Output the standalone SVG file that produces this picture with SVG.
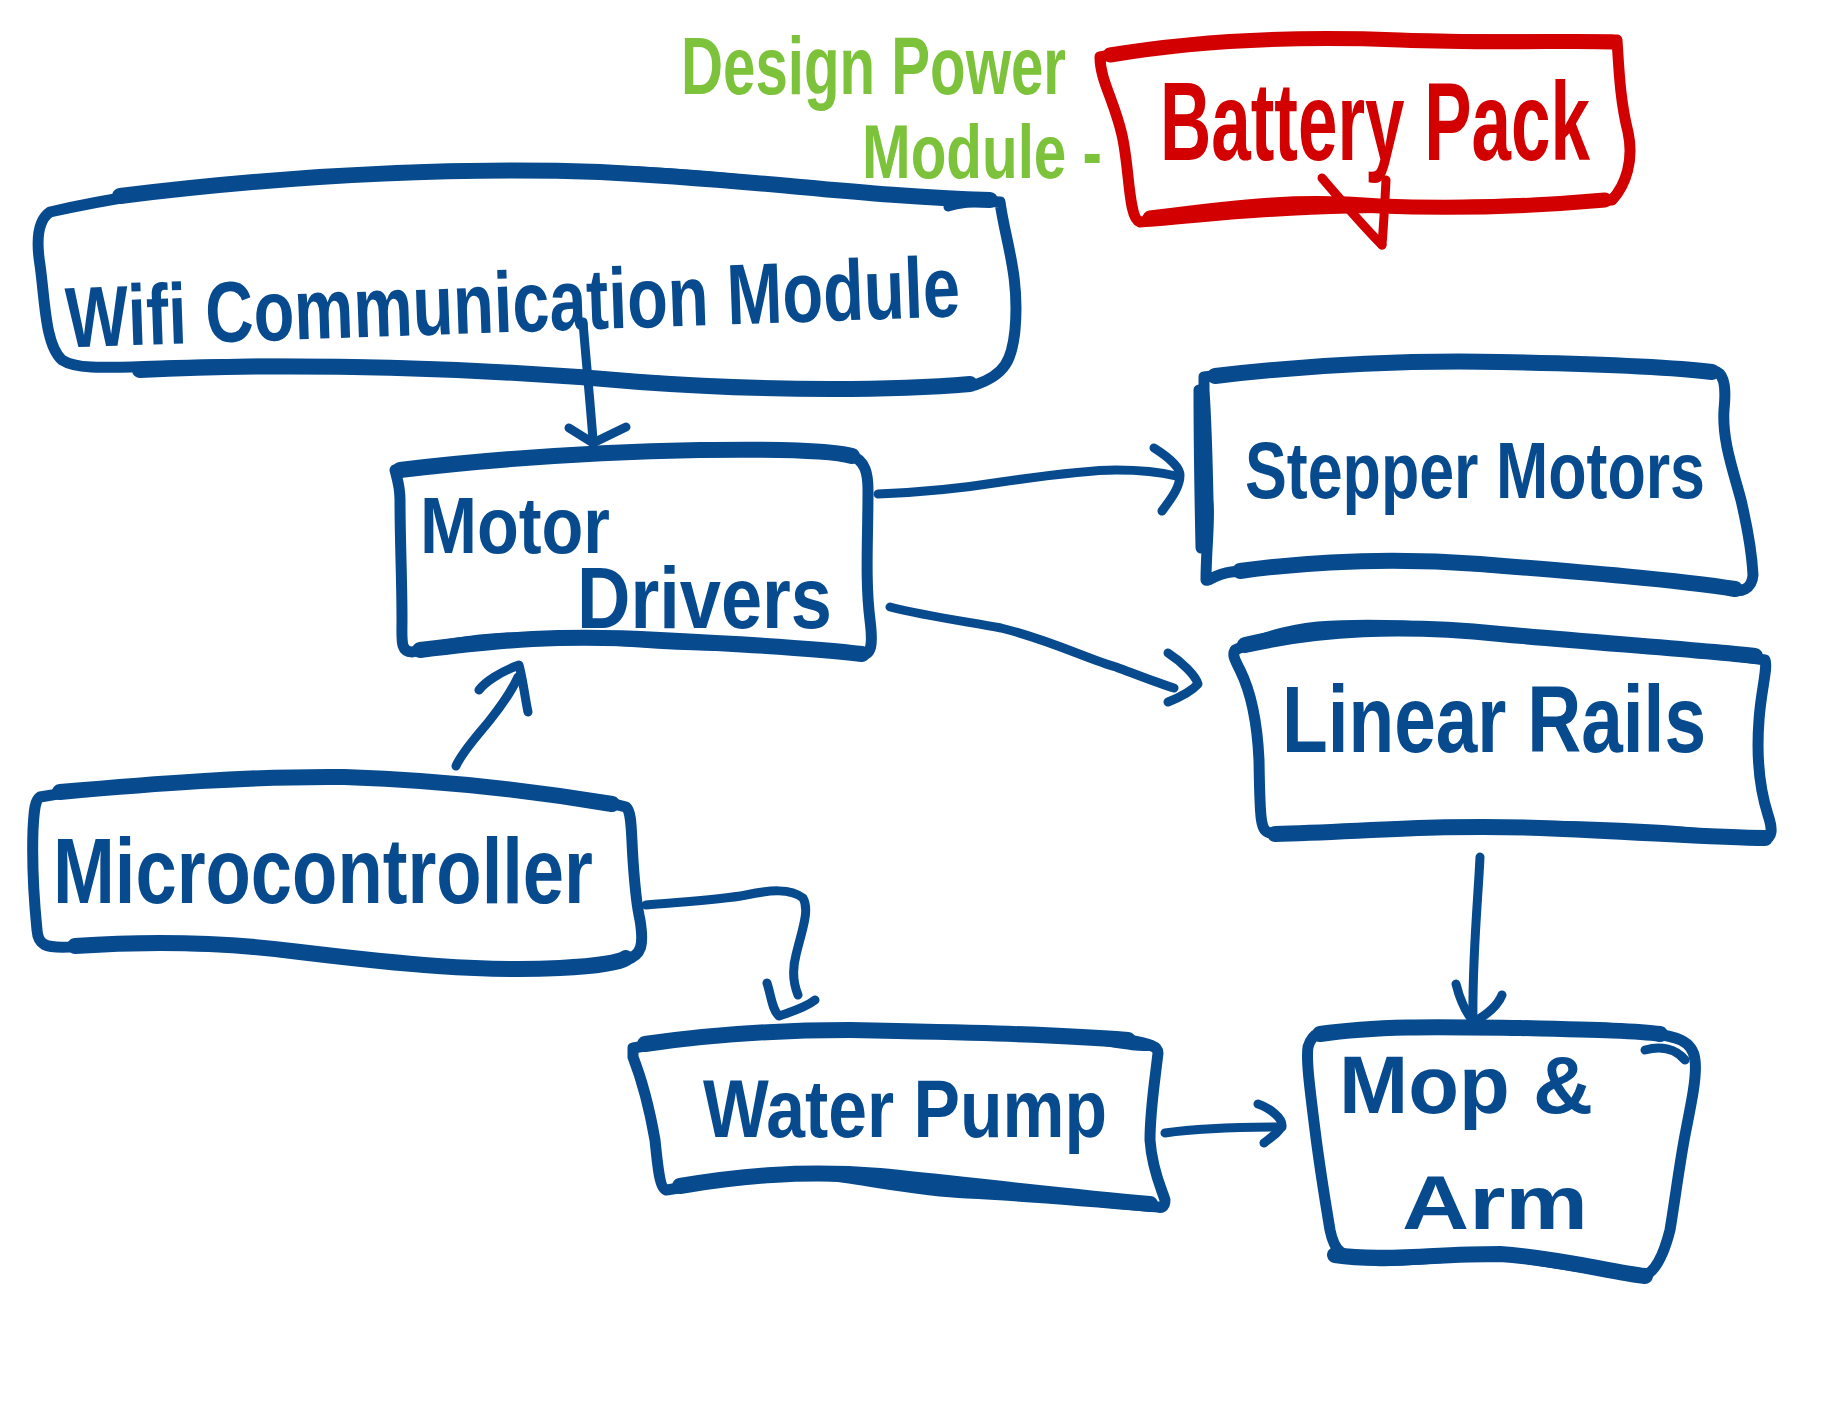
<svg xmlns="http://www.w3.org/2000/svg" width="1847" height="1419" viewBox="0 0 1847 1419">
<defs>
<style>
.box{fill:none;stroke:#074A8E;stroke-width:11;stroke-linecap:round;stroke-linejoin:round}
.thick{fill:none;stroke:#074A8E;stroke-width:16;stroke-linecap:round;stroke-linejoin:round}
.redbox{fill:none;stroke:#D20000;stroke-width:11;stroke-linecap:round;stroke-linejoin:round}
.redthick{fill:none;stroke:#D20000;stroke-width:15;stroke-linecap:round;stroke-linejoin:round}
.con{fill:none;stroke:#074A8E;stroke-width:9;stroke-linecap:round;stroke-linejoin:round}
.redcon{fill:none;stroke:#D20000;stroke-width:9;stroke-linecap:round;stroke-linejoin:round}
.t{font-family:"Liberation Sans","DejaVu Sans",sans-serif;font-weight:bold;fill:#074A8E}
.tr{font-family:"Liberation Sans","DejaVu Sans",sans-serif;font-weight:bold;fill:#D20000}
.tg{font-family:"Liberation Sans","DejaVu Sans",sans-serif;font-weight:bold;fill:#7DC23B}
</style>
</defs>
<rect width="1847" height="1419" fill="#ffffff"/>

<g id="power-label">
<text class="tg" x="681" y="94" font-size="82" textLength="385" lengthAdjust="spacingAndGlyphs">Design Power</text>
<text class="tg" x="862" y="178" font-size="76" textLength="240" lengthAdjust="spacingAndGlyphs">Module -</text>
</g>

<g id="battery-pack">
<path class="redbox" d="M 1100,57 C 1160,44 1250,36 1350,38 C 1450,40 1550,40 1617,40 C 1619,70 1620,100 1628,132 C 1634,160 1626,185 1612,200 C 1550,204 1450,206 1350,208 C 1250,210 1200,218 1140,222 C 1128,218 1130,170 1122,135 C 1114,100 1100,80 1100,57 Z"/>
<path class="redthick" d="M 1110,55 C 1200,40 1300,36 1400,40 C 1500,44 1570,40 1612,42"/>
<path class="redthick" d="M 1150,218 C 1250,205 1300,200 1380,206 C 1480,210 1560,204 1605,200"/>
<text class="tr" x="1160" y="160" font-size="112" textLength="430" lengthAdjust="spacingAndGlyphs">Battery Pack</text>
</g>

<g id="wifi-module">
<path class="box" d="M 50,212 C 120,196 200,185 290,178 C 420,168 520,166 640,172 C 760,178 860,196 1000,202 C 1005,240 1020,275 1015,330 C 1012,360 1005,375 975,385 C 900,392 780,390 640,380 C 500,368 350,362 200,365 C 120,366 80,372 62,360 C 45,345 45,300 40,265 C 36,240 38,220 50,212 Z"/>
<path class="thick" d="M 120,196 C 250,180 420,166 600,172 C 760,180 860,196 990,200"/>
<path class="thick" d="M 140,370 C 300,362 480,368 640,382 C 780,392 900,390 970,384"/>
<path class="con" d="M 948,207 C 960,203 975,202 990,202"/>
<text class="t" x="65" y="332" font-size="86" textLength="895" lengthAdjust="spacingAndGlyphs" transform="rotate(-2 510 300)">Wifi Communication Module</text>
</g>

<g id="motor-drivers">
<path class="box" d="M 395,470 C 480,460 560,455 620,452 C 700,448 780,447 850,455 C 866,460 868,475 868,490 C 868,540 865,580 870,620 C 873,645 872,655 860,655 C 820,652 760,645 700,645 C 620,643 560,632 480,640 C 440,645 420,650 412,652 C 400,652 402,640 402,620 C 402,580 400,540 400,500 C 400,485 396,475 395,470 Z"/>
<path class="thick" d="M 400,470 C 500,458 600,452 700,450 C 780,449 830,450 852,456"/>
<path class="thick" d="M 420,650 C 500,640 560,634 660,640 C 760,645 830,650 862,654"/>
<text class="t" x="420" y="553" font-size="80" textLength="190" lengthAdjust="spacingAndGlyphs">Motor</text>
<text class="t" x="577" y="628" font-size="88" textLength="255" lengthAdjust="spacingAndGlyphs">Drivers</text>
</g>

<g id="stepper-motors">
<path class="box" d="M 1204,377 C 1260,370 1320,364 1378,362 C 1450,360 1520,362 1575,364 C 1640,366 1690,368 1717,372 C 1725,376 1726,390 1724,410 C 1722,440 1733,470 1741,500 C 1748,530 1752,555 1753,575 C 1752,590 1740,592 1733,590 C 1680,582 1620,576 1575,573 C 1500,568 1440,562 1378,560 C 1300,560 1260,568 1231,572 C 1215,574 1208,582 1206,580 C 1206,550 1210,520 1208,500 C 1207,450 1206,420 1204,390 Z"/>
<path class="thick" d="M 1215,376 C 1300,366 1400,360 1500,362 C 1600,364 1680,368 1712,372"/>
<path class="thick" d="M 1240,571 C 1320,560 1400,558 1480,564 C 1580,572 1680,580 1735,589"/>
<path class="box" d="M 1199,390 C 1199,440 1200,500 1201,548"/>
<text class="t" x="1245" y="498" font-size="80" textLength="460" lengthAdjust="spacingAndGlyphs">Stepper Motors</text>
</g>

<g id="linear-rails">
<path class="box" d="M 1235,650 C 1260,638 1290,630 1318,627 C 1380,622 1440,628 1496,633 C 1600,642 1700,650 1765,660 C 1768,668 1761,690 1759,720 C 1756,760 1760,790 1768,815 C 1773,830 1772,838 1765,838 C 1720,836 1690,832 1654,830 C 1580,826 1520,825 1457,827 C 1380,830 1320,836 1271,833 C 1260,832 1260,820 1259,760 C 1257,717 1250,690 1240,670 C 1235,660 1232,655 1235,650 Z"/>
<path class="thick" d="M 1245,645 C 1320,628 1400,624 1500,634 C 1600,643 1700,650 1755,656"/>
<path class="thick" d="M 1275,834 C 1360,832 1440,824 1540,828 C 1640,832 1720,838 1765,838"/>
<text class="t" x="1282" y="752" font-size="95" textLength="424" lengthAdjust="spacingAndGlyphs">Linear Rails</text>
</g>

<g id="microcontroller">
<path class="box" d="M 40,797 C 100,786 170,782 230,780 C 290,778 320,776 344,777 C 440,780 520,790 574,797 C 600,800 615,804 626,807 C 632,812 631,830 633,860 C 635,890 637,907 640,920 C 644,945 642,955 626,960 C 580,966 540,970 517,970 C 430,970 360,958 287,950 C 200,944 110,944 69,947 C 45,948 38,945 37,930 C 34,900 32,860 33,830 C 34,810 35,800 40,797 Z"/>
<path class="thick" d="M 60,792 C 150,784 250,776 344,777 C 440,780 540,792 612,804"/>
<path class="thick" d="M 75,946 C 160,940 240,944 300,952 C 400,964 480,972 560,968 C 600,966 620,962 626,958"/>
<text class="t" x="53" y="903" font-size="92" textLength="540" lengthAdjust="spacingAndGlyphs">Microcontroller</text>
</g>

<g id="water-pump">
<path class="box" d="M 633,1048 C 680,1040 720,1034 747,1033 C 820,1030 900,1032 967,1033 C 1040,1034 1100,1036 1128,1040 C 1150,1044 1158,1046 1158,1053 C 1155,1080 1150,1110 1150,1140 C 1152,1170 1162,1190 1165,1200 C 1165,1208 1160,1208 1158,1207 C 1100,1202 1030,1196 967,1193 C 900,1190 840,1172 783,1173 C 730,1174 690,1188 666,1190 C 660,1188 658,1170 655,1140 C 648,1100 640,1075 633,1057 Z"/>
<path class="thick" d="M 645,1044 C 700,1036 760,1030 850,1030 C 950,1032 1050,1034 1128,1040"/>
<path class="thick" d="M 680,1186 C 740,1176 800,1170 880,1176 C 960,1184 1060,1196 1150,1204"/>
<path class="con" d="M 1095,1040 C 1120,1044 1140,1048 1150,1046"/>
<text class="t" x="703" y="1137" font-size="82" textLength="404" lengthAdjust="spacingAndGlyphs">Water Pump</text>
</g>

<g id="mop-arm">
<path class="box" d="M 1319,1033 C 1360,1028 1420,1028 1480,1028 C 1560,1030 1620,1032 1649,1033 C 1675,1036 1693,1040 1695,1060 C 1697,1075 1692,1100 1686,1130 C 1680,1160 1675,1200 1670,1230 C 1662,1262 1652,1274 1642,1277 C 1600,1270 1550,1262 1517,1257 C 1460,1252 1400,1264 1370,1260 C 1340,1258 1334,1250 1330,1230 C 1325,1200 1320,1170 1315,1130 C 1310,1090 1306,1060 1308,1047 C 1310,1040 1314,1035 1319,1033 Z"/>
<path class="thick" d="M 1320,1034 C 1380,1025 1450,1027 1520,1028 C 1600,1030 1640,1031 1660,1034"/>
<path class="thick" d="M 1335,1255 C 1380,1262 1430,1254 1500,1254 C 1560,1258 1610,1272 1645,1276"/>
<path class="con" d="M 1645,1050 C 1660,1046 1675,1048 1685,1060"/>
<text class="t" x="1339" y="1113" font-size="82" textLength="254" lengthAdjust="spacingAndGlyphs">Mop &amp;</text>
<text class="t" x="1402" y="1229" font-size="76" textLength="186" lengthAdjust="spacingAndGlyphs">Arm</text>
</g>

<g id="connectors">
<path class="redcon" d="M 1322,178 C 1345,205 1365,228 1382,245"/>
<path class="redcon" d="M 1386,180 C 1385,200 1384,220 1382,245"/>
<path class="con" d="M 583,322 C 586,360 590,400 593,440"/>
<path class="con" d="M 569,428 L 593,443 L 626,427"/>
<path class="con" d="M 878,494 C 930,492 970,487 1001,482 C 1050,475 1090,470 1116,470 C 1140,470 1160,472 1176,476"/>
<path class="con" d="M 1154,448 C 1170,458 1180,468 1180,475 C 1180,488 1170,500 1162,511"/>
<path class="con" d="M 890,607 C 930,617 970,622 1001,628 C 1050,640 1090,660 1116,667 C 1140,676 1160,684 1174,688"/>
<path class="con" d="M 1168,653 C 1182,662 1196,676 1198,684 C 1190,693 1178,698 1168,702"/>
<path class="con" d="M 456,766 C 462,752 478,735 490,720 C 502,705 512,690 518,677"/>
<path class="con" d="M 479,690 C 485,682 500,672 519,665 C 523,680 525,698 528,712"/>
<path class="con" d="M 646,905 C 680,902 720,900 746,895 C 770,890 790,888 803,898 C 810,910 802,930 796,955 C 792,970 794,985 798,995"/>
<path class="con" d="M 767,983 C 771,995 772,1010 779,1016 C 790,1012 805,1008 815,1000"/>
<path class="con" d="M 1480,857 C 1478,900 1472,960 1473,1020"/>
<path class="con" d="M 1456,984 C 1460,1000 1465,1012 1474,1022 C 1488,1014 1498,1005 1502,995"/>
<path class="con" d="M 1165,1133 C 1200,1128 1240,1127 1282,1127"/>
<path class="con" d="M 1258,1104 C 1270,1108 1282,1118 1282,1125 C 1280,1132 1270,1138 1264,1143"/>
</g>
</svg>
